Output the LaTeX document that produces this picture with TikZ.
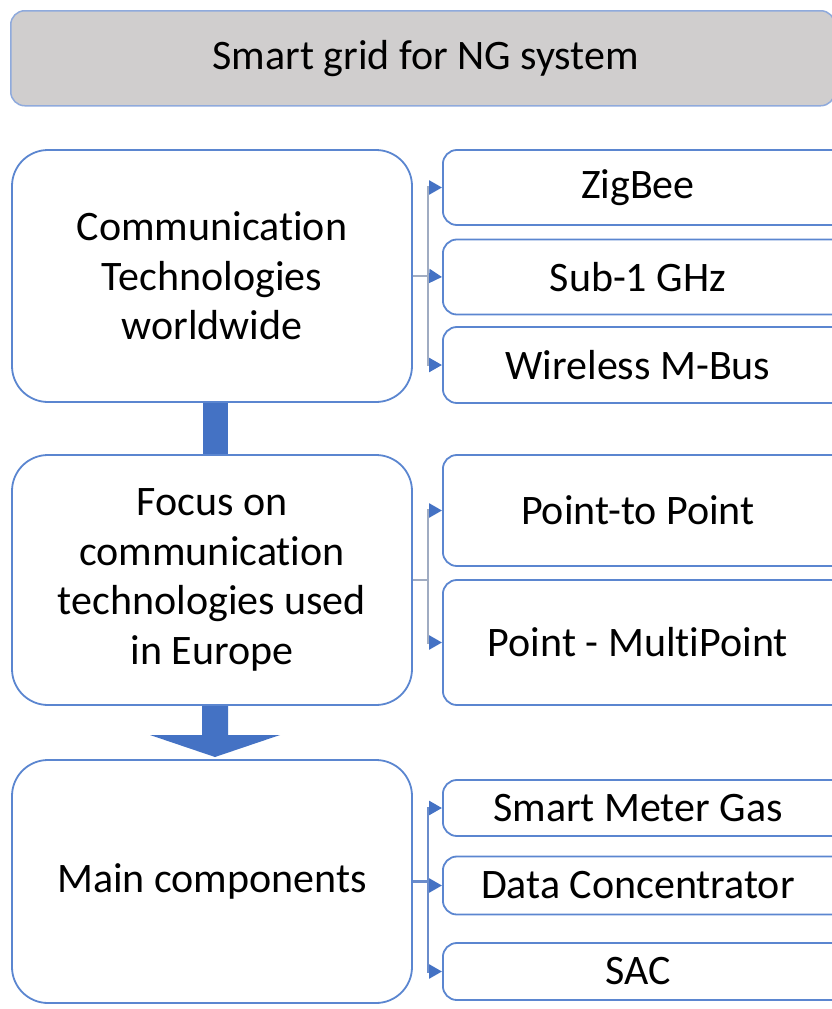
\documentclass[tikz,border=0pt]{standalone}
\usepackage{fontspec}
\setmainfont[Ligatures=NoCommon]{Carlito}
\usetikzlibrary{arrows.meta,calc}
\definecolor{bord}{HTML}{5B86D0}
\definecolor{topbord}{HTML}{8FAADC}
\definecolor{topfill}{HTML}{D0CECE}
\definecolor{blk}{HTML}{4472C4}
\definecolor{conngray}{HTML}{A0ACC2}
\definecolor{connblue}{HTML}{6A8CCB}
\newcommand{\rbx}[1]{\makebox[390pt]{#1}\hspace*{48pt}}
\tikzset{
  x=1pt,y=-1pt,
  every node/.style={font=\fontsize{42}{49.5}\selectfont},
  leftbox/.style={draw=bord,line width=1.8pt,fill=white,rounded corners=36pt,
    minimum width=400pt,align=center,inner sep=0pt},
  rightbox/.style={draw=bord,line width=1.8pt,fill=white,rounded corners=14pt,
    inner sep=0pt,anchor=west},
  conn/.style={line width=2.6pt,draw=#1},
  tip/.style={-{Triangle[length=13pt,width=14pt,color=blk]}},
}
\begin{document}
\begin{tikzpicture}
\clip (0,0) rectangle (832,1009);
\fill[white] (0,0) rectangle (832,1009);
% title
\node[draw=topbord,line width=1.5pt,fill=topfill,rounded corners=14pt,minimum width=824pt,minimum height=95pt,anchor=north west,inner sep=0pt] (title) at (10,10) {\makebox[824pt]{\hspace*{6pt}Smart grid for NG system}};
% block arrows
\node[fill=blk,minimum width=25pt,minimum height=56pt,inner sep=0pt] (bar1) at (215.5,428.5) {};
\fill[blk] (202,703) -- (228,703) -- (228,735) -- (280,735) -- (215,757) -- (150,735) -- (202,735) -- cycle;
% left boxes
\node[leftbox,minimum height=252pt] (L1) at (212,276) {Communication\\Technologies\\worldwide};
\node[leftbox,minimum height=250pt] (L2) at (212,580) {Focus on\\communication\\technologies used\\in Europe};
\node[leftbox,minimum height=243pt] (L3) at (212,881.5) {Main components};
% right boxes
\node[rightbox,minimum height=75pt] (R1) at (442,187.5) {\rbx{ZigBee}};
\node[rightbox,minimum height=75pt] (R2) at (442,277) {\rbx{Sub-1 GHz}};
\node[rightbox,minimum height=76pt] (R3) at (442,365) {\rbx{Wireless M-Bus}};
\node[rightbox,minimum height=111pt] (R4) at (442,510.5) {\rbx{Point-to Point}};
\node[rightbox,minimum height=125pt] (R5) at (442,642.5) {\rbx{Point - MultiPoint}};
\node[rightbox,minimum height=56pt] (R6) at (442,808) {\rbx{Smart Meter Gas}};
\node[rightbox,minimum height=58pt] (R7) at (442,885.5) {\rbx{Data Concentrator}};
\node[rightbox,minimum height=57pt] (R8) at (442,971.5) {\rbx{SAC}};
% trunks
\coordinate (T1) at (428,277);
\coordinate (T2) at (428,582);
\coordinate (T3) at (428,885.5);
% connectors section 1
\draw[conn=conngray] (L1.east) -- (L1.east -| T1);
\draw[conn=conngray,tip] (L1.east -| T1) |- (R1.west);
\draw[conn=conngray,tip] (L1.east -| T1) -- (R2.west);
\draw[conn=conngray,tip] (L1.east -| T1) |- (R3.west);
% section 2
\draw[conn=conngray] (L2.east) -- (L2.east -| T2);
\draw[conn=conngray,tip] (L2.east -| T2) |- (R4.west);
\draw[conn=conngray,tip] (L2.east -| T2) |- (R5.west);
% section 3
\draw[conn=connblue] (L3.east) -- (L3.east -| T3);
\draw[conn=connblue,tip] (L3.east -| T3) |- (R6.west);
\draw[conn=connblue,tip] (L3.east -| T3) |- (R7.west);
\draw[conn=connblue,tip] (L3.east -| T3) |- (R8.west);
\end{tikzpicture}
\end{document}
